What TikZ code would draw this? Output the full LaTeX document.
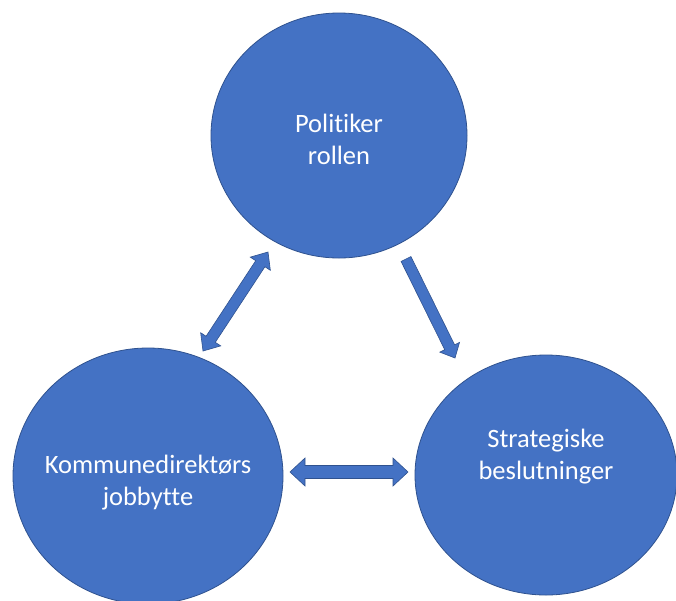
\documentclass[tikz,border=0pt]{standalone}
\usepackage{fontspec}
\setmainfont{Carlito}[Ligatures=NoCommon]
\usetikzlibrary{shapes.geometric,calc}
\definecolor{fillblue}{HTML}{4472C4}
\definecolor{edgeblue}{HTML}{2F528F}
\tikzset{
  bubble/.style={ellipse, draw=edgeblue, fill=fillblue, line width=0.8pt, inner sep=0pt},
  bubbletext/.style={text=white, align=center, inner sep=0pt, font=\fontsize{26.5}{32}\selectfont},
  blockarrow/.style={draw=edgeblue, fill=fillblue, line width=0.6pt, line join=miter},
}
% #1 tip A, #2 tip B, #3 shaft half width, #4 head half width, #5 head length
\newcommand{\dblarrow}[5]{%
  \coordinate (ha) at ($(#1)!#5!(#2)$);
  \coordinate (hb) at ($(#2)!#5!(#1)$);
  \path[blockarrow] (#1) -- ($(ha)!#4!90:(#2)$) -- ($(ha)!#3!90:(#2)$)
    -- ($(hb)!#3!-90:(#1)$) -- ($(hb)!#4!-90:(#1)$) -- (#2)
    -- ($(hb)!#4!90:(#1)$) -- ($(hb)!#3!90:(#1)$)
    -- ($(ha)!#3!-90:(#2)$) -- ($(ha)!#4!-90:(#2)$) -- cycle;}
% #1 tail, #2 tip
\newcommand{\sglarrow}[5]{%
  \coordinate (hb) at ($(#2)!#5!(#1)$);
  \path[blockarrow] ($(#1)!#3!90:(#2)$) -- ($(hb)!#3!-90:(#1)$) -- ($(hb)!#4!-90:(#1)$)
    -- (#2) -- ($(hb)!#4!90:(#1)$) -- ($(hb)!#3!90:(#1)$) -- ($(#1)!#3!-90:(#2)$) -- cycle;}
\begin{document}
\begin{tikzpicture}[x=1pt,y=-1pt]
  \fill[white] (0,0) rectangle (676,600);
  \useasboundingbox (0,0) rectangle (676,600);
  \begin{scope}
  \clip (0,0) rectangle (676,600);
  \node[bubble, minimum width=256pt, minimum height=245pt] (top) at (339,135.5) {};
  \node[bubble, minimum width=270pt, minimum height=256pt] (left) at (148,476) {};
  \node[bubble, minimum width=262pt, minimum height=240pt] (right) at (546,475) {};
  \end{scope}
  \node[bubbletext] (toptext) at (339,139) {Politiker\\rollen};
  \node[bubbletext] (lefttext) at (148,483) {Kommunedirektørs\\jobbytte};
  \node[bubbletext] (righttext) at (546,457) {Strategiske\\beslutninger};
  \coordinate (a1s) at (203,351);
  \coordinate (a1e) at (268,252);
  \coordinate (a2s) at (406,259);
  \coordinate (a2e) at (455,358);
  \coordinate (a3s) at (290,472);
  \coordinate (a3e) at (408,472);
  \dblarrow{a1s}{a1e}{5.5pt}{12pt}{14pt}
  \sglarrow{a2s}{a2e}{5.5pt}{11pt}{12pt}
  \dblarrow{a3s}{a3e}{6.5pt}{14pt}{15pt}
\end{tikzpicture}
\end{document}
